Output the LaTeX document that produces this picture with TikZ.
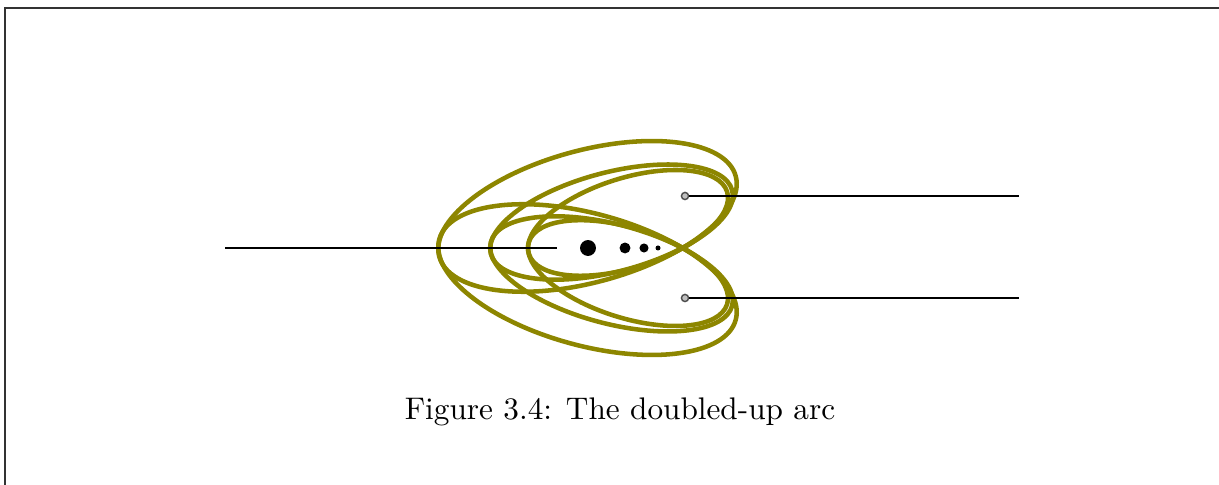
\documentclass[tikz,border=0pt]{standalone}
\begin{document}
\begin{tikzpicture}[x=0.32pt,y=0.32pt,
  orbit/.style={draw=olive, line width=1.45pt},
  wire/.style={draw=black, line width=0.6pt},
  pin/.style={circle, draw=black!70, fill=black!25, line width=0.45pt, inner sep=0pt, minimum size=2.3pt},
  bead/.style={circle, fill=black, inner sep=0pt}]
\useasboundingbox (0,-237) rectangle (1219,248);
\draw[line width=0.6pt, black!80] (5,-237) -- (5,240) -- (1219,240);
\newcommand\threeloops{%
  \draw[orbit, rotate around={15.2:(587.5,31.6)}] (587.5,31.6) ellipse [x radius=153.6, y radius=66];
  \draw[orbit, rotate around={14.8:(611.5,25.9)}] (611.5,25.9) ellipse [x radius=124.8, y radius=49.6];
  \draw[orbit, rotate around={17.46:(628,25.1)}] (628,25.1) ellipse [x radius=103.9, y radius=44.8];
}
\threeloops
\begin{scope}[yscale=-1]
\threeloops
\end{scope}
% left line and beads
\coordinate (lstart) at (225,0);
\coordinate (lend) at (557,0);
\draw[wire] (lstart) -- (lend);
\node[bead, minimum size=5.1pt] (b1) at (588,0) {};
\node[bead, minimum size=3.5pt] (b2) at (625,0) {};
\node[bead, minimum size=2.9pt] (b3) at (644,0) {};
\node[bead, minimum size=1.6pt] (b4) at (658,0) {};
% pins and right lines
\node[pin] (p1) at (685,52) {};
\coordinate (e1) at (1019,52);
\draw[wire] (p1) -- (e1);
\node[pin] (p2) at (685,-50) {};
\coordinate (e2) at (1019,-50);
\draw[wire] (p2) -- (e2);
% caption
\node[anchor=base, inner sep=0pt] (cap) at (620,-172) {Figure 3.4: The doubled-up arc};
\end{tikzpicture}
\end{document}
